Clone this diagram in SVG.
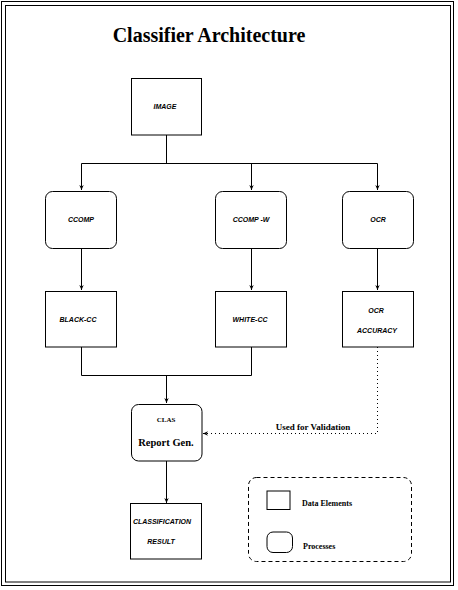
<svg xmlns="http://www.w3.org/2000/svg" width="458" height="590" viewBox="0 0 458 590">
<style>
.box{fill:#fff;stroke:#000;stroke-width:1}
.ln{fill:none;stroke:#000;stroke-width:1}
.dot{fill:none;stroke:#000;stroke-width:1;stroke-dasharray:1 3}
.sm{font-family:"Liberation Sans",Arial,sans-serif;font-size:7px;font-style:italic;font-weight:bold;text-anchor:middle}
.sr{font-family:"Liberation Serif","Times New Roman",serif;font-weight:bold}
</style>
<defs>
<marker id="ah" markerWidth="6" markerHeight="6" refX="5" refY="3" orient="auto" markerUnits="userSpaceOnUse">
<path d="M0,0.8 L5,3 L0,5.2 L1.5,3 Z" fill="#000"/>
</marker>
</defs>
<rect x="1.5" y="1.5" width="452" height="584" fill="#fff" stroke="#000" stroke-width="1"/>
<rect x="5.5" y="5.5" width="445" height="576.5" fill="none" stroke="#000" stroke-width="1"/>
<text x="209" y="42" class="sr" font-size="20" text-anchor="middle">Classifier Architecture</text>
<g id="connectors">
<path class="ln" d="M166.5,135 V163.5"/>
<path class="ln" d="M81.5,163.5 H377.5"/>
<path class="ln" d="M81.5,163.5 V190" marker-end="url(#ah)"/>
<path class="ln" d="M251.5,163.5 V190" marker-end="url(#ah)"/>
<path class="ln" d="M377.5,163.5 V190" marker-end="url(#ah)"/>
<path class="ln" d="M81.5,248 V290" marker-end="url(#ah)"/>
<path class="ln" d="M251.5,248 V290" marker-end="url(#ah)"/>
<path class="ln" d="M377.5,248 V290" marker-end="url(#ah)"/>
<path class="ln" d="M81.5,347 V375.5 H251.5 V347"/>
<path class="ln" d="M166.5,375.5 V403" marker-end="url(#ah)"/>
<path class="dot" d="M377.5,347 V433.5 H203"/>
<path class="ln" d="M206,433.5 H203" marker-end="url(#ah)"/>
<path class="ln" d="M166.5,461 V503" marker-end="url(#ah)"/>
<text x="313" y="430" class="sr" font-size="9" text-anchor="middle">Used for Validation</text>
</g>
<g id="image"><rect class="box" x="131.5" y="78.5" width="70" height="56.5"/><text x="165" y="109" class="sm">IMAGE</text></g>
<g id="ccomp"><rect class="box" x="45.5" y="191.5" width="71" height="57" rx="7"/><text x="81" y="222" class="sm">CCOMP</text></g>
<g id="ccompw"><rect class="box" x="215.5" y="191.5" width="71" height="57" rx="7"/><text x="251" y="222" class="sm">CCOMP -W</text></g>
<g id="ocr"><rect class="box" x="342.5" y="191.5" width="71" height="57" rx="7"/><text x="378" y="222" class="sm">OCR</text></g>
<g id="blackcc"><rect class="box" x="45.5" y="291.5" width="71" height="55.5"/><text x="78" y="322" class="sm">BLACK-CC</text></g>
<g id="whitecc"><rect class="box" x="215.5" y="291.5" width="71" height="55.5"/><text x="250" y="322" class="sm">WHITE-CC</text></g>
<g id="ocracc"><rect class="box" x="342.5" y="291.5" width="71" height="55.5"/><text x="376" y="313" class="sm">OCR</text><text x="377" y="333" class="sm">ACCURACY</text></g>
<g id="clas"><rect class="box" x="131.5" y="404.5" width="70.5" height="56.5" rx="7"/><text x="166" y="422" class="sr" font-size="7" text-anchor="middle">CLAS</text><text x="166" y="446" class="sr" font-size="10.5" text-anchor="middle">Report Gen.</text></g>
<g id="result"><rect class="box" x="130.5" y="503.5" width="71" height="55.5"/><text x="162" y="524" class="sm">CLASSIFICATION</text><text x="161" y="544" class="sm">RESULT</text></g>
<g id="legend">
<rect x="248.5" y="477.5" width="163" height="84" rx="8" fill="none" stroke="#000" stroke-width="1" stroke-dasharray="4 3"/>
<rect class="box" x="267" y="491" width="23" height="18.5"/>
<text x="302" y="506" class="sr" font-size="8">Data Elements</text>
<rect class="box" x="267" y="532" width="25.5" height="20.5" rx="6"/>
<text x="303" y="549" class="sr" font-size="8">Processes</text>
</g>
</svg>
